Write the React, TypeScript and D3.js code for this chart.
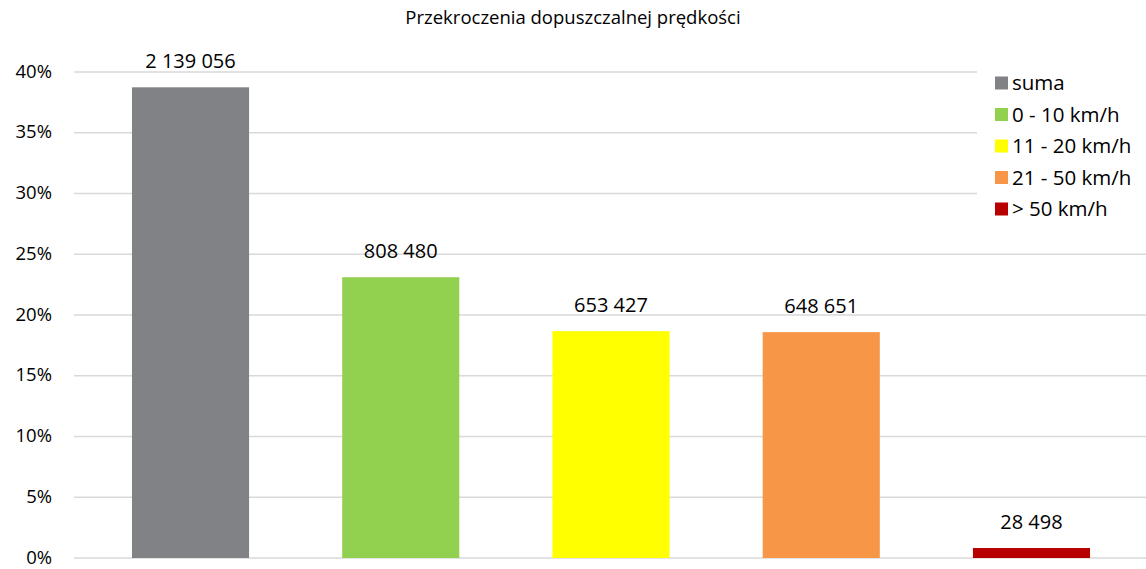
import React, { useEffect, useRef } from "react";
import * as d3 from "d3";

const categories = ["suma", "0 - 10 km/h", "11 - 20 km/h", "21 - 50 km/h", "> 50 km/h"];
const percents = [38.74, 23.11, 18.67, 18.59, 0.82];
const counts = ["2 139 056", "808 480", "653 427", "648 651", "28 498"];
const colors = ["#808285", "#92D050", "#FFFF00", "#F79646", "#B80000"];
const yTicks = [0, 5, 10, 15, 20, 25, 30, 35, 40];

const W = 1146;
const H = 569;
const font = "'Open Sans', 'Noto Sans', sans-serif";

export default function App() {
  const ref = useRef<SVGSVGElement>(null);

  useEffect(() => {
    const svg = d3.select(ref.current);
    svg.selectAll("*").remove();

    const x = d3.scaleBand().domain(categories).range([85.4, 1136.6]).paddingInner(0.443).paddingOuter(0.2215);
    const y = d3.scaleLinear().domain([0, 40]).range([558, 72]);

    // tytuł
    svg.append("text")
      .attr("x", 573).attr("y", 24)
      .attr("text-anchor", "middle")
      .style("font-family", font).style("font-size", "18.5px").attr("fill", "#000")
      .text("Przekroczenia dopuszczalnej prędkości");

    // siatka
    svg.append("g").selectAll("line").data(yTicks).join("line")
      .attr("x1", 74).attr("x2", W)
      .attr("y1", d => y(d)).attr("y2", d => y(d))
      .attr("stroke", "#D9D9D9").attr("stroke-width", 1.3);

    svg.append("g").selectAll("text").data(yTicks).join("text")
      .attr("x", 52).attr("y", d => y(d)).attr("dy", "0.3em")
      .attr("text-anchor", "end")
      .style("font-family", font).style("font-size", "18.5px").attr("fill", "#000")
      .text(d => d + "%");

    // słupki
    svg.append("g").selectAll("rect").data(categories).join("rect")
      .attr("x", d => x(d)!)
      .attr("width", x.bandwidth())
      .attr("y", (d, i) => y(percents[i]))
      .attr("height", (d, i) => y(0) - y(percents[i]))
      .attr("fill", (d, i) => colors[i]);

    svg.append("g").selectAll("text").data(categories).join("text")
      .attr("x", d => x(d)! + x.bandwidth() / 2)
      .attr("y", (d, i) => y(percents[i]) - 19)
      .attr("text-anchor", "middle")
      .style("font-family", font).style("font-size", "20px").attr("fill", "#000")
      .text((d, i) => counts[i]);

    // legenda
    svg.append("rect").attr("x", 977).attr("y", 64).attr("width", W - 977).attr("height", 172).attr("fill", "#fff");
    const leg = svg.append("g").selectAll("g").data(categories).join("g")
      .attr("transform", (d, i) => `translate(995, ${83 + i * 31.5})`);
    leg.append("rect").attr("x", 0).attr("y", -6.5).attr("width", 13).attr("height", 13)
      .attr("fill", (d, i) => colors[i]);
    leg.append("text").attr("x", 17).attr("y", 0).attr("dy", "0.35em")
      .style("font-family", font).style("font-size", "20.5px").attr("fill", "#000")
      .text(d => d);
  }, []);

  return <svg ref={ref} width={W} height={H} style={{ position: "absolute", left: 0, top: 0, background: "#fff" }} />;
}
